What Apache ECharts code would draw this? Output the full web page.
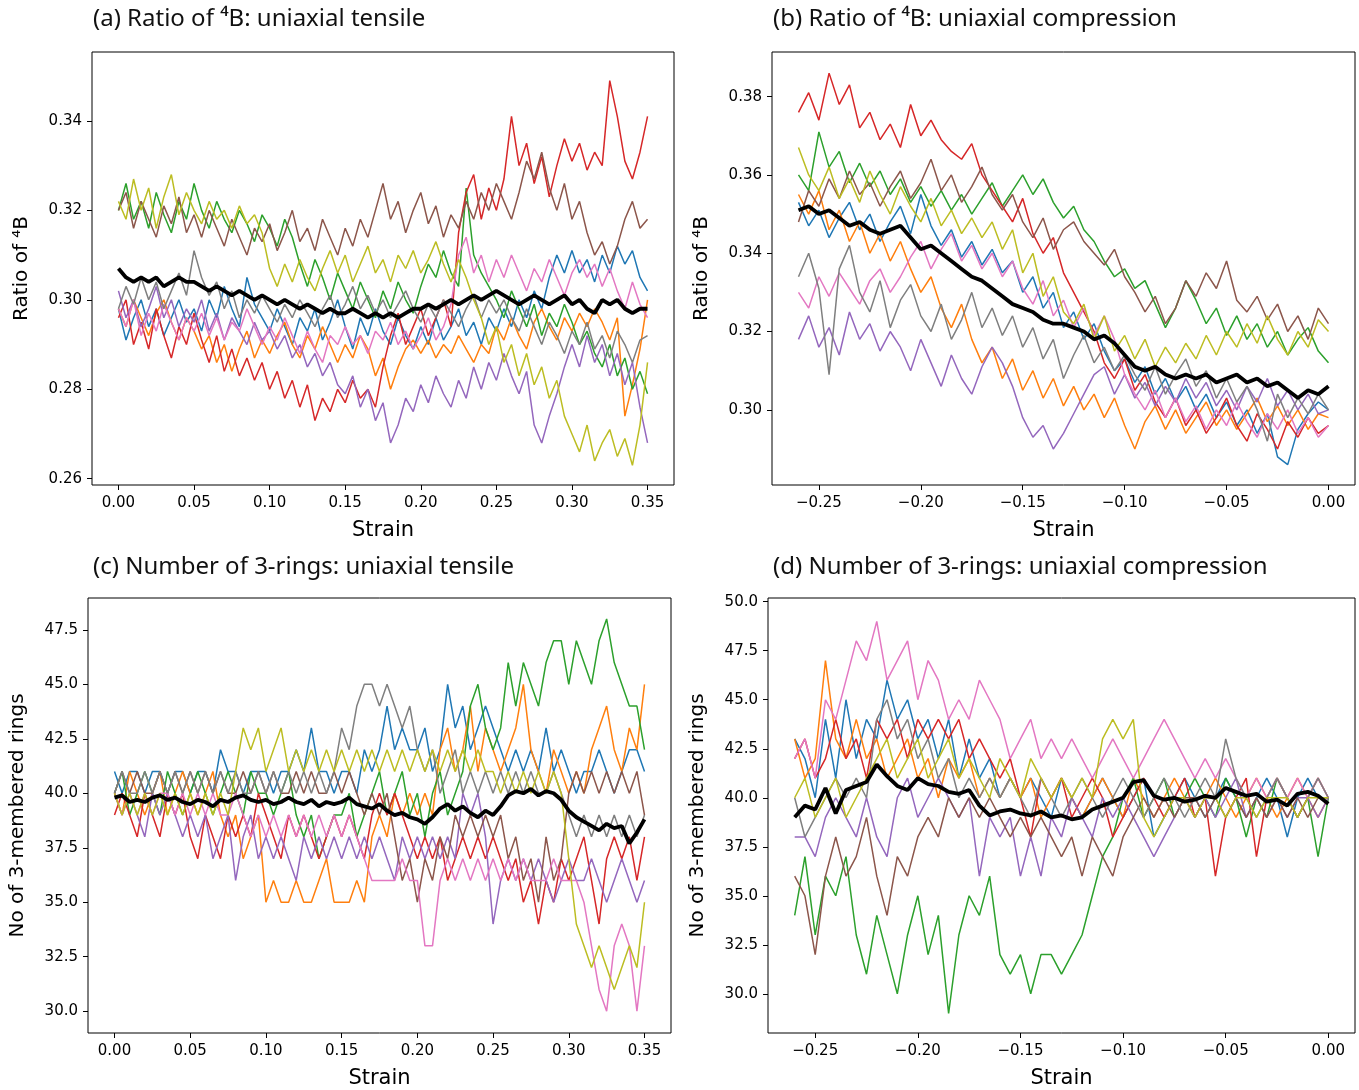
<!DOCTYPE html>
<html>
<head>
<meta charset="utf-8">
<title>Ratio of 4B and 3-rings under strain</title>
<script src="https://cdn.jsdelivr.net/npm/echarts@6/dist/echarts.min.js"></script>
<style>
  html, body { margin: 0; padding: 0; background: #fff; }
  #main { width: 1359px; height: 1090px; }
</style>
</head>
<body>
<div id="main"></div>
<script>
// strain values (x)
var strainT = [0,0.005,0.01,0.015,0.02,0.025,0.03,0.035,0.04,0.045,0.05,0.055,0.06,0.065,0.07,0.075,0.08,0.085,0.09,0.095,0.1,0.105,0.11,0.115,0.12,0.125,0.13,0.135,0.14,0.145,0.15,0.155,0.16,0.165,0.17,0.175,0.18,0.185,0.19,0.195,0.2,0.205,0.21,0.215,0.22,0.225,0.23,0.235,0.24,0.245,0.25,0.255,0.26,0.265,0.27,0.275,0.28,0.285,0.29,0.295,0.3,0.305,0.31,0.315,0.32,0.325,0.33,0.335,0.34,0.345,0.35];
var strainC = [-0.26,-0.255,-0.25,-0.245,-0.24,-0.235,-0.23,-0.225,-0.22,-0.215,-0.21,-0.205,-0.2,-0.195,-0.19,-0.185,-0.18,-0.175,-0.17,-0.165,-0.16,-0.155,-0.15,-0.145,-0.14,-0.135,-0.13,-0.125,-0.12,-0.115,-0.11,-0.105,-0.1,-0.095,-0.09,-0.085,-0.08,-0.075,-0.07,-0.065,-0.06,-0.055,-0.05,-0.045,-0.04,-0.035,-0.03,-0.025,-0.02,-0.015,-0.01,-0.005,0];

// tick labels
var ticksT = [0,0.05,0.1,0.15,0.2,0.25,0.3,0.35];
var ticksC = [-0.25,-0.2,-0.15,-0.1,-0.05,0];
var ticksA = [0.26,0.28,0.30,0.32,0.34];
var ticksB = [0.30,0.32,0.34,0.36,0.38];
var ticksRingT = [30,32.5,35,37.5,40,42.5,45,47.5];
var ticksRingC = [30,32.5,35,37.5,40,42.5,45,47.5,50];

// (a) ratio of 4B, tensile
var aBlue = [0.298,0.291,0.296,0.300,0.294,0.298,0.292,0.296,0.300,0.295,
  0.298,0.293,0.300,0.296,0.303,0.298,0.294,0.305,0.299,0.296,
  0.293,0.298,0.294,0.290,0.296,0.293,0.298,0.291,0.295,0.300,
  0.294,0.289,0.296,0.292,0.298,0.293,0.290,0.296,0.292,0.289,
  0.294,0.290,0.296,0.291,0.294,0.298,0.292,0.295,0.290,0.296,
  0.293,0.298,0.294,0.300,0.296,0.302,0.298,0.305,0.310,0.306,
  0.311,0.306,0.309,0.304,0.310,0.306,0.312,0.308,0.311,0.305,0.302];
var aOrange = [0.298,0.294,0.300,0.296,0.292,0.297,0.300,0.295,0.291,0.296,
  0.293,0.289,0.292,0.286,0.290,0.284,0.289,0.293,0.287,0.291,
  0.288,0.292,0.295,0.290,0.287,0.292,0.289,0.294,0.290,0.286,
  0.290,0.287,0.292,0.289,0.283,0.287,0.280,0.285,0.289,0.291,
  0.288,0.291,0.287,0.290,0.288,0.292,0.289,0.286,0.290,0.288,
  0.294,0.291,0.296,0.292,0.289,0.295,0.298,0.294,0.291,0.296,
  0.293,0.297,0.294,0.298,0.295,0.291,0.296,0.274,0.281,0.289,0.300];
var aGreen = [0.320,0.326,0.318,0.322,0.316,0.324,0.319,0.315,0.322,0.318,
  0.326,0.320,0.316,0.322,0.318,0.315,0.320,0.317,0.313,0.319,
  0.316,0.312,0.318,0.314,0.308,0.303,0.309,0.305,0.300,0.306,
  0.302,0.298,0.304,0.300,0.296,0.302,0.298,0.304,0.300,0.297,
  0.303,0.308,0.305,0.311,0.306,0.303,0.325,0.310,0.306,0.303,
  0.300,0.296,0.302,0.298,0.294,0.299,0.292,0.297,0.294,0.299,
  0.295,0.290,0.293,0.288,0.285,0.290,0.283,0.287,0.280,0.284,0.279];
var aRed = [0.296,0.300,0.290,0.295,0.289,0.298,0.292,0.287,0.294,0.290,
  0.297,0.291,0.286,0.292,0.284,0.289,0.283,0.287,0.282,0.286,
  0.280,0.284,0.278,0.282,0.276,0.281,0.273,0.278,0.275,0.280,
  0.277,0.282,0.278,0.280,0.276,0.285,0.292,0.297,0.290,0.294,
  0.298,0.292,0.296,0.300,0.294,0.315,0.324,0.328,0.318,0.325,
  0.320,0.327,0.341,0.330,0.335,0.326,0.332,0.323,0.330,0.336,
  0.331,0.335,0.329,0.333,0.330,0.349,0.341,0.331,0.327,0.333,0.341];
var aPurple = [0.302,0.296,0.300,0.294,0.298,0.303,0.296,0.300,0.294,0.298,
  0.295,0.300,0.293,0.297,0.291,0.296,0.293,0.290,0.295,0.291,
  0.293,0.289,0.292,0.287,0.290,0.285,0.288,0.283,0.286,0.281,
  0.279,0.283,0.276,0.280,0.273,0.277,0.268,0.272,0.278,0.275,
  0.281,0.277,0.283,0.279,0.276,0.282,0.278,0.285,0.280,0.286,
  0.282,0.288,0.283,0.279,0.284,0.272,0.268,0.274,0.279,0.285,
  0.290,0.285,0.292,0.286,0.290,0.283,0.288,0.281,0.286,0.276,0.268];
var aBrown = [0.320,0.324,0.316,0.322,0.318,0.314,0.321,0.317,0.323,0.315,
  0.319,0.314,0.320,0.316,0.312,0.318,0.314,0.310,0.316,0.313,
  0.317,0.311,0.315,0.320,0.313,0.316,0.311,0.318,0.314,0.310,
  0.316,0.312,0.318,0.314,0.320,0.326,0.318,0.322,0.315,0.320,
  0.324,0.317,0.321,0.314,0.319,0.316,0.322,0.318,0.324,0.320,
  0.326,0.322,0.318,0.324,0.331,0.327,0.333,0.325,0.320,0.326,
  0.318,0.322,0.315,0.310,0.313,0.308,0.312,0.318,0.322,0.316,0.318];
var aPink = [0.298,0.294,0.300,0.292,0.297,0.293,0.299,0.295,0.291,0.296,
  0.293,0.297,0.292,0.296,0.291,0.295,0.293,0.298,0.294,0.290,
  0.294,0.291,0.296,0.292,0.288,0.293,0.289,0.286,0.292,0.290,
  0.294,0.290,0.292,0.288,0.293,0.291,0.295,0.290,0.293,0.289,
  0.292,0.296,0.291,0.294,0.299,0.310,0.314,0.306,0.310,0.304,
  0.309,0.305,0.310,0.306,0.302,0.307,0.304,0.309,0.305,0.301,
  0.306,0.309,0.305,0.308,0.303,0.307,0.302,0.298,0.304,0.299,0.296];
var aGray = [0.298,0.303,0.299,0.305,0.300,0.304,0.298,0.302,0.306,0.301,
  0.311,0.305,0.301,0.304,0.298,0.302,0.296,0.300,0.297,0.301,
  0.298,0.295,0.299,0.296,0.300,0.297,0.294,0.298,0.301,0.296,
  0.299,0.303,0.298,0.301,0.297,0.300,0.296,0.299,0.302,0.298,
  0.295,0.299,0.296,0.300,0.297,0.294,0.298,0.301,0.296,0.300,
  0.297,0.300,0.296,0.293,0.298,0.294,0.290,0.295,0.292,0.288,
  0.293,0.290,0.295,0.289,0.292,0.287,0.293,0.290,0.286,0.291,0.292];
var aOlive = [0.322,0.318,0.327,0.320,0.325,0.316,0.323,0.328,0.319,0.324,
  0.320,0.317,0.322,0.318,0.320,0.316,0.321,0.317,0.319,0.315,
  0.307,0.303,0.308,0.304,0.309,0.305,0.302,0.307,0.311,0.306,
  0.310,0.304,0.308,0.312,0.306,0.309,0.304,0.310,0.307,0.311,
  0.306,0.309,0.313,0.308,0.304,0.309,0.305,0.300,0.296,0.290,
  0.294,0.286,0.290,0.283,0.288,0.281,0.285,0.278,0.282,0.274,
  0.270,0.266,0.272,0.264,0.268,0.271,0.265,0.269,0.263,0.272,0.286];
var aMean = [0.307,0.305,0.304,0.305,0.304,0.305,0.303,0.304,0.305,0.304,
  0.304,0.303,0.302,0.303,0.302,0.301,0.302,0.301,0.300,0.301,
  0.300,0.299,0.300,0.299,0.298,0.299,0.298,0.297,0.298,0.297,
  0.297,0.298,0.297,0.296,0.297,0.296,0.297,0.296,0.297,0.298,
  0.298,0.299,0.298,0.299,0.300,0.299,0.300,0.301,0.300,0.301,
  0.302,0.301,0.300,0.299,0.300,0.301,0.300,0.299,0.300,0.301,
  0.299,0.300,0.298,0.297,0.300,0.299,0.300,0.298,0.297,0.298,0.298];

// (b) ratio of 4B, compression
var bBlue = [0.353,0.347,0.351,0.344,0.349,0.353,0.346,0.350,0.343,0.348,
  0.352,0.345,0.355,0.347,0.342,0.346,0.339,0.343,0.337,0.341,
  0.335,0.338,0.330,0.334,0.326,0.330,0.321,0.325,0.318,0.322,
  0.315,0.310,0.313,0.307,0.311,0.304,0.308,0.302,0.306,0.300,
  0.304,0.298,0.302,0.296,0.300,0.294,0.299,0.288,0.286,0.295,
  0.299,0.302,0.300];
var bOrange = [0.355,0.350,0.356,0.346,0.351,0.343,0.348,0.340,0.345,0.338,
  0.343,0.336,0.330,0.334,0.326,0.321,0.327,0.318,0.312,0.316,
  0.308,0.313,0.305,0.310,0.303,0.308,0.301,0.306,0.300,0.304,
  0.298,0.303,0.296,0.290,0.297,0.301,0.295,0.300,0.294,0.298,
  0.302,0.296,0.300,0.295,0.299,0.303,0.297,0.301,0.296,0.300,
  0.295,0.299,0.298];
var bGreen = [0.360,0.356,0.371,0.362,0.366,0.358,0.363,0.357,0.361,0.355,
  0.359,0.353,0.357,0.352,0.356,0.351,0.355,0.350,0.354,0.358,
  0.352,0.356,0.360,0.355,0.359,0.353,0.349,0.352,0.346,0.343,
  0.338,0.334,0.336,0.331,0.333,0.327,0.321,0.326,0.333,0.328,
  0.322,0.326,0.319,0.324,0.318,0.322,0.316,0.320,0.314,0.318,
  0.321,0.315,0.312];
var bRed = [0.376,0.381,0.374,0.386,0.378,0.383,0.372,0.376,0.369,0.373,
  0.367,0.378,0.370,0.374,0.369,0.366,0.364,0.368,0.360,0.356,
  0.352,0.348,0.354,0.345,0.340,0.344,0.335,0.330,0.325,0.320,
  0.312,0.308,0.313,0.305,0.309,0.302,0.298,0.303,0.296,0.300,
  0.294,0.298,0.303,0.296,0.292,0.299,0.295,0.290,0.297,0.293,
  0.298,0.294,0.296];
var bPurple = [0.318,0.324,0.316,0.321,0.314,0.325,0.318,0.322,0.315,0.320,
  0.316,0.310,0.318,0.312,0.306,0.314,0.308,0.304,0.311,0.316,
  0.312,0.306,0.298,0.293,0.296,0.290,0.294,0.299,0.304,0.309,
  0.311,0.304,0.309,0.303,0.307,0.301,0.306,0.302,0.308,0.303,
  0.307,0.301,0.305,0.300,0.306,0.302,0.308,0.301,0.305,0.300,
  0.304,0.299,0.300];
var bBrown = [0.348,0.356,0.352,0.359,0.354,0.361,0.355,0.358,0.352,0.357,
  0.361,0.354,0.358,0.364,0.356,0.360,0.353,0.357,0.362,0.355,
  0.351,0.355,0.348,0.344,0.349,0.341,0.346,0.348,0.343,0.340,
  0.337,0.341,0.334,0.330,0.325,0.329,0.322,0.326,0.333,0.329,
  0.335,0.331,0.338,0.328,0.325,0.329,0.323,0.327,0.320,0.324,
  0.318,0.326,0.322];
var bPink = [0.330,0.326,0.334,0.329,0.335,0.331,0.327,0.333,0.336,0.330,
  0.334,0.339,0.343,0.336,0.341,0.345,0.338,0.342,0.336,0.340,
  0.334,0.338,0.331,0.327,0.333,0.324,0.328,0.321,0.326,0.319,
  0.324,0.318,0.309,0.304,0.300,0.305,0.298,0.303,0.297,0.301,
  0.295,0.300,0.296,0.302,0.297,0.293,0.299,0.295,0.300,0.294,
  0.298,0.293,0.296];
var bGray = [0.334,0.340,0.331,0.309,0.336,0.342,0.330,0.325,0.333,0.321,
  0.328,0.332,0.324,0.320,0.327,0.318,0.323,0.330,0.321,0.326,
  0.319,0.324,0.316,0.321,0.313,0.318,0.308,0.314,0.319,0.312,
  0.316,0.310,0.314,0.309,0.305,0.311,0.304,0.309,0.313,0.306,
  0.310,0.303,0.308,0.302,0.306,0.300,0.292,0.304,0.298,0.303,
  0.299,0.304,0.300];
var bOlive = [0.367,0.360,0.356,0.362,0.354,0.359,0.353,0.361,0.355,0.350,
  0.357,0.352,0.348,0.354,0.347,0.351,0.345,0.349,0.344,0.348,
  0.341,0.346,0.335,0.340,0.329,0.334,0.325,0.322,0.327,0.318,
  0.324,0.315,0.319,0.313,0.318,0.311,0.316,0.312,0.317,0.313,
  0.319,0.314,0.320,0.316,0.322,0.317,0.324,0.318,0.314,0.320,
  0.316,0.323,0.320];
var bMean = [0.351,0.352,0.350,0.351,0.349,0.347,0.348,0.346,0.345,0.346,
  0.347,0.344,0.341,0.342,0.340,0.338,0.336,0.334,0.333,0.331,
  0.329,0.327,0.326,0.325,0.323,0.322,0.322,0.321,0.320,0.318,
  0.319,0.317,0.314,0.311,0.310,0.311,0.309,0.308,0.309,0.308,
  0.309,0.307,0.308,0.309,0.307,0.308,0.306,0.307,0.305,0.303,
  0.305,0.304,0.306];

// (c) number of 3-rings, tensile
var cBlue = [41,40,41,41,40,41,41,40,41,41, 40,41,41,40,42,41,41,40,41,41,
  41,40,41,41,42,41,43,41,41,40, 41,41,40,42,41,42,44,42,43,42,
  42,43,41,42,45,43,44,42,43,44, 43,42,41,42,41,42,41,43,41,42,
  41,40,41,41,42,41,40,41,42,42, 41];
var cOrange = [40,39,41,40,39,40,41,39,40,41, 40,39,40,41,39,38,39,37,38,39,
  35,36,35,35,36,35,35,36,37,35, 35,35,36,35,38,39,38,40,39,40,
  39,40,39,42,43,41,42,44,41,43, 42,41,42,43,45,42,41,40,42,41,
  40,41,40,42,43,44,42,41,43,42, 45];
var cGreen = [40,41,39,40,41,40,39,41,40,39, 40,41,40,39,40,41,40,39,41,40,
  40,39,40,41,39,38,39,37,38,39, 39,40,38,39,40,41,39,40,41,39,
  40,38,40,41,39,40,41,44,45,43, 42,43,46,44,46,45,44,46,47,47,
  45,47,46,45,47,48,46,45,44,44, 42];
var cRed = [39,40,39,38,40,39,38,40,39,40, 38,37,39,38,37,39,38,39,38,40,
  39,38,37,39,38,39,38,37,38,39, 38,39,38,37,39,40,39,40,39,38,
  37,38,37,38,36,37,38,37,38,37, 38,37,36,37,35,36,34,36,35,37,
  36,37,38,36,34,37,38,37,38,36, 38];
var cPurple = [40,39,40,39,38,40,39,40,39,38, 39,38,39,37,38,39,36,38,39,37,
  38,37,38,37,36,38,37,38,37,38, 37,38,37,38,37,38,37,36,38,37,
  38,37,38,37,38,37,40,39,40,38, 34,36,37,36,37,36,37,36,35,36,
  37,36,36,37,36,35,36,37,36,35, 36];
var cBrown = [40,41,40,41,40,40,41,40,41,40, 41,40,41,40,41,40,40,41,40,41,
  40,41,40,40,41,40,41,40,40,41, 40,41,40,39,40,39,40,38,36,37,
  35,37,36,38,37,39,38,39,38,39, 38,39,37,38,36,37,35,38,36,37,
  40,41,40,41,40,41,40,41,40,41, 39];
var cPink = [40,39,40,39,40,39,40,40,39,40, 39,40,39,40,39,39,40,39,38,39,
  38,39,38,39,38,39,38,39,38,39, 38,39,38,37,36,36,36,36,37,36,
  36,33,33,36,37,36,37,36,37,36, 37,36,37,36,37,36,36,36,37,36,
  36,36,35,33,31,30,33,34,33,30, 33];
var cGray = [40,41,40,40,41,40,41,40,41,40, 41,40,41,40,41,40,41,40,40,41,
  40,41,40,41,40,41,40,41,40,41, 43,42,44,45,45,44,45,44,43,44,
  42,41,42,40,41,42,40,41,40,41, 40,41,40,41,40,41,40,40,41,40,
  39,38,39,38,39,38,39,38,39,38, 39];
var cOlive = [40,39,40,39,40,39,40,39,40,39, 40,39,40,39,40,39,41,43,42,43,
  41,42,43,41,42,41,42,41,42,41, 42,41,42,41,42,41,42,41,42,41,
  42,41,42,41,42,41,42,41,42,41, 41,40,41,40,41,40,41,40,41,40,
  37,34,33,32,33,32,31,32,33,32, 35];
var cMean = [39.8,39.9,39.6,39.7,39.6,39.8,39.9,39.7,39.8,39.6,
  39.5,39.7,39.6,39.4,39.7,39.6,39.8,39.9,39.7,39.6,
  39.7,39.5,39.6,39.8,39.6,39.5,39.7,39.4,39.6,39.5,
  39.6,39.8,39.5,39.4,39.3,39.5,39.2,39.0,39.1,38.9,
  38.8,38.6,38.9,39.3,39.5,39.2,39.4,39.1,38.9,39.2,
  39.0,39.4,39.9,40.1,40.0,40.2,39.9,40.1,40.0,39.7,
  39.2,38.9,38.7,38.5,38.3,38.6,38.4,38.5,37.7,38.2,38.8];

// (d) number of 3-rings, compression
var dBlue = [43,42,40,44,41,45,42,44,43,46, 44,45,43,44,42,44,41,43,41,42,
  40,41,40,41,40,39,41,40,39,40, 41,40,39,40,41,38,39,40,41,40,
  39,40,41,40,39,40,41,40,38,40, 41,40,40];
var dOrange = [43,41,42,47,43,42,44,42,43,41, 42,43,41,42,40,42,41,42,40,41,
  40,41,40,41,39,40,41,40,39,40, 41,40,39,41,40,39,40,41,40,39,
  40,41,40,39,40,41,40,39,40,41, 40,39,40];
var dGreen = [34,37,33,36,35,37,33,31,34,32, 30,33,35,32,34,29,33,35,34,36,
  32,31,32,30,32,32,31,32,33,35, 37,38,40,41,39,40,41,39,40,41,
  40,39,41,40,38,40,39,41,40,39, 40,37,40];
var dRed = [42,43,41,42,44,42,43,41,44,43, 44,42,44,43,44,43,44,42,43,42,
  41,42,40,38,41,40,41,39,40,41, 40,38,39,40,41,40,39,40,41,39,
  40,36,39,40,41,37,40,41,40,39, 40,41,40];
var dPurple = [38,38,37,39,40,39,38,40,38,37, 40,41,39,40,41,40,39,40,36,39,
  38,39,36,38,36,39,38,40,39,38, 40,39,40,39,38,37,38,39,40,39,
  40,39,40,41,39,40,39,40,39,40, 40,39,40];
var dBrown = [36,35,32,36,38,36,37,39,36,34, 37,36,38,39,38,40,39,40,39,40,
  39,38,39,38,39,38,37,38,36,38, 37,36,38,39,40,39,40,39,40,40,
  39,40,39,40,39,40,39,40,39,40, 39,40,40];
var dPink = [42,43,41,45,44,46,48,47,49,46, 47,48,45,47,46,44,45,44,46,45,
  44,42,43,44,42,43,42,43,42,41, 42,43,42,41,42,43,44,43,42,41,
  42,41,42,41,40,41,40,41,40,41, 40,41,40];
var dGray = [40,38,39,40,41,40,41,40,44,45, 43,44,42,43,41,42,40,41,40,41,
  40,41,40,39,41,40,39,40,41,40, 39,40,41,40,39,40,41,40,39,40,
  41,40,43,41,40,39,40,41,40,39, 40,41,40];
var dOlive = [40,41,39,40,41,39,40,41,42,43, 41,42,43,41,42,43,41,42,41,40,
  42,41,40,42,41,40,41,40,41,40, 43,44,43,44,39,38,39,40,40,39,
  40,40,39,40,40,39,40,40,40,39, 40,40,40];
var dMean = [39.0,39.6,39.4,40.5,39.2,40.4,40.6,40.8,41.7,41.1,
  40.6,40.4,41.0,40.7,40.6,40.3,40.2,40.4,39.6,39.1,
  39.3,39.4,39.2,39.1,39.3,39.0,39.1,38.9,39.0,39.4,
  39.6,39.8,40.0,40.8,40.9,40.1,39.9,40.0,39.8,39.9,
  40.1,40.0,40.5,40.3,40.1,40.2,39.8,39.9,39.6,40.2,
  40.3,40.1,39.7];

// matplotlib tab10 order (no cyan run)
var colors = ['#1f77b4','#ff7f0e','#2ca02c','#d62728','#9467bd','#8c564b','#e377c2','#7f7f7f','#bcbd22'];

var panels = [
  { x: strainT, runs: [aBlue,aOrange,aGreen,aRed,aPurple,aBrown,aPink,aGray,aOlive], mean: aMean },
  { x: strainC, runs: [bBlue,bOrange,bGreen,bRed,bPurple,bBrown,bPink,bGray,bOlive], mean: bMean },
  { x: strainT, runs: [cBlue,cOrange,cGreen,cRed,cPurple,cBrown,cPink,cGray,cOlive], mean: cMean },
  { x: strainC, runs: [dBlue,dOrange,dGreen,dRed,dPurple,dBrown,dPink,dGray,dOlive], mean: dMean }
];

var tickFont = 'DejaVu Sans';
function minusFmt(d) {
  return function (v) { return v.toFixed(d).replace('-', '\u2212'); };
}

function xAx(gi, min, max, ticks) {
  return {
    type: 'value', gridIndex: gi, min: min, max: max,
    name: 'Strain', nameLocation: 'middle', nameGap: 35,
    nameTextStyle: { fontFamily: tickFont, fontSize: 21, color: '#000' },
    axisLine: { show: false, onZero: false },
    splitLine: { show: false },
    axisTick: { show: true, length: 5, lineStyle: { color: '#000' }, customValues: ticks },
    axisLabel: { customValues: ticks, formatter: minusFmt(2), fontFamily: tickFont, fontSize: 15, color: '#000', margin: 11 }
  };
}
function yAx(gi, min, max, ticks, dec, name) {
  return {
    type: 'value', gridIndex: gi, min: min, max: max,
    name: name, nameLocation: 'middle', nameGap: 60, nameRotate: 90,
    nameTextStyle: { fontFamily: tickFont, fontSize: 20, color: '#000' },
    axisLine: { show: false, onZero: false },
    splitLine: { show: false },
    axisTick: { show: true, length: 5, lineStyle: { color: '#000' }, customValues: ticks },
    axisLabel: { customValues: ticks, formatter: minusFmt(dec), fontFamily: tickFont, fontSize: 15, color: '#000', margin: 10 }
  };
}

var gridBox = { show: true, borderColor: '#000', borderWidth: 1, containLabel: false };
var titleStyle = { fontFamily: 'Noto Sans', fontSize: 24, fontWeight: 'normal', color: '#111' };

var series = [];
panels.forEach(function (p, gi) {
  p.runs.forEach(function (vals, k) {
    series.push({
      type: 'line', xAxisIndex: gi, yAxisIndex: gi, showSymbol: false, silent: true,
      data: p.x.map(function (s, i) { return [s, vals[i]]; }),
      lineStyle: { color: colors[k], width: 1.5 }, z: 2
    });
  });
  series.push({
    type: 'line', xAxisIndex: gi, yAxisIndex: gi, showSymbol: false, silent: true,
    data: p.x.map(function (s, i) { return [s, p.mean[i]]; }),
    lineStyle: { color: '#000', width: 3.8 }, z: 3
  });
});

var chart = echarts.init(document.getElementById('main'));
chart.setOption({
  animation: false,
  backgroundColor: '#fff',
  title: [
    { text: '(a) Ratio of \u2074B: uniaxial tensile', left: 88, top: 2, textStyle: titleStyle },
    { text: '(b) Ratio of \u2074B: uniaxial compression', left: 768, top: 2, textStyle: titleStyle },
    { text: '(c) Number of 3-rings: uniaxial tensile', left: 88, top: 550, textStyle: titleStyle },
    { text: '(d) Number of 3-rings: uniaxial compression', left: 768, top: 550, textStyle: titleStyle }
  ],
  grid: [
    Object.assign({ left: 92, top: 52, width: 582, height: 433 }, gridBox),
    Object.assign({ left: 772, top: 52, width: 583, height: 433 }, gridBox),
    Object.assign({ left: 88, top: 598, width: 583, height: 437 }, gridBox),
    Object.assign({ left: 768, top: 598, width: 587, height: 437 }, gridBox)
  ],
  xAxis: [
    xAx(0, -0.0175, 0.3675, ticksT),
    xAx(1, -0.273, 0.013, ticksC),
    xAx(2, -0.0175, 0.3675, ticksT),
    xAx(3, -0.273, 0.013, ticksC)
  ],
  yAxis: [
    yAx(0, 0.2586, 0.3554, ticksA, 2, 'Ratio of \u2074B'),
    yAx(1, 0.2808, 0.3914, ticksB, 2, 'Ratio of \u2074B'),
    yAx(2, 29.0, 48.96, ticksRingT, 1, 'No of 3-membered rings'),
    yAx(3, 28.0, 50.19, ticksRingC, 1, 'No of 3-membered rings')
  ],
  series: series
});
</script>
</body>
</html>
